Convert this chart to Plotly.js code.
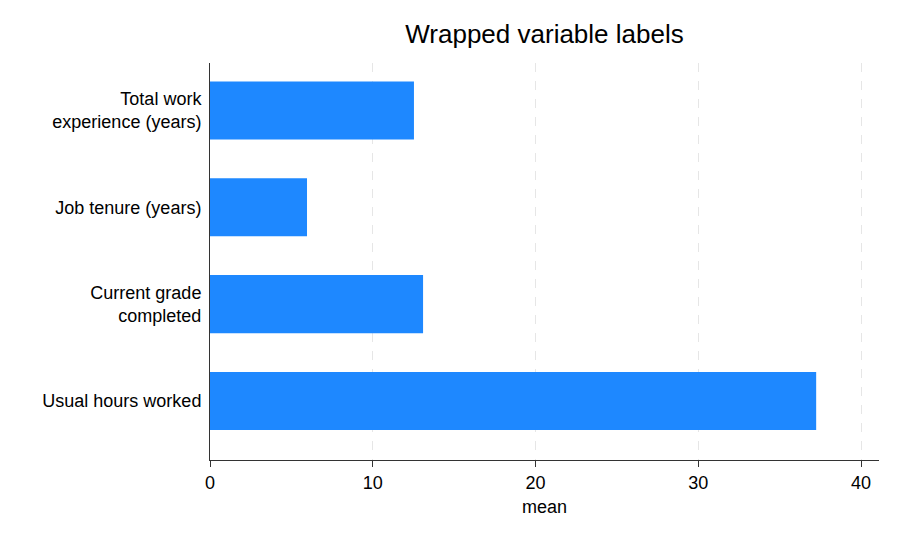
<!DOCTYPE html>
<html>
<head>
<meta charset="utf-8">
<script src="https://cdn.plot.ly/plotly-3.0.1.min.js"></script>
<style>body{margin:0;background:#fff}</style>
</head>
<body>
<div id="chart" style="width:900px;height:540px"></div>
<script>
// variables, bottom to top
const labels = ["Usual hours worked", "Current grade<br>completed", "Job tenure (years)", "Total work<br>experience (years)"];
const means = [37.24, 13.09, 5.96, 12.53];

var data = [{
    type: 'bar',
    orientation: 'h',
    x: means,
    y: labels,
    width: 0.6,
    marker: {color: '#1e88ff'},
    hoverinfo: 'x+y'
}];

var layout = {
    width: 900,
    height: 540,
    margin: {l: 210, r: 21, t: 63, b: 80},
    paper_bgcolor: '#fff',
    plot_bgcolor: '#fff',
    font: {family: 'Liberation Sans, Arial, sans-serif', color: '#000', size: 18},
    title: {text: 'Wrapped variable labels', font: {size: 26}, x: 0.605, xanchor: 'center', y: 0.937, yanchor: 'middle'},
    showlegend: false,
    xaxis: {
        range: [0, 41.1],
        tickvals: [0, 10, 20, 30, 40],
        showgrid: true,
        gridcolor: '#e6e6e6',
        griddash: 'dash',
        gridwidth: 1,
        zeroline: false,
        showline: true,
        linecolor: '#333',
        linewidth: 1,
        ticks: 'outside',
        ticklen: 6,
        tickcolor: '#333',
        tickfont: {size: 18},
        title: {text: 'mean', font: {size: 18}, standoff: 8}
    },
    yaxis: {
        type: 'category',
        range: [-0.61, 3.49],
        showgrid: false,
        zeroline: false,
        showline: true,
        linecolor: '#333',
        linewidth: 1,
        ticks: '',
        ticklabelstandoff: 4,
        tickfont: {size: 18}
    }
};

Plotly.newPlot('chart', data, layout, {displayModeBar: false});
</script>
</body>
</html>
